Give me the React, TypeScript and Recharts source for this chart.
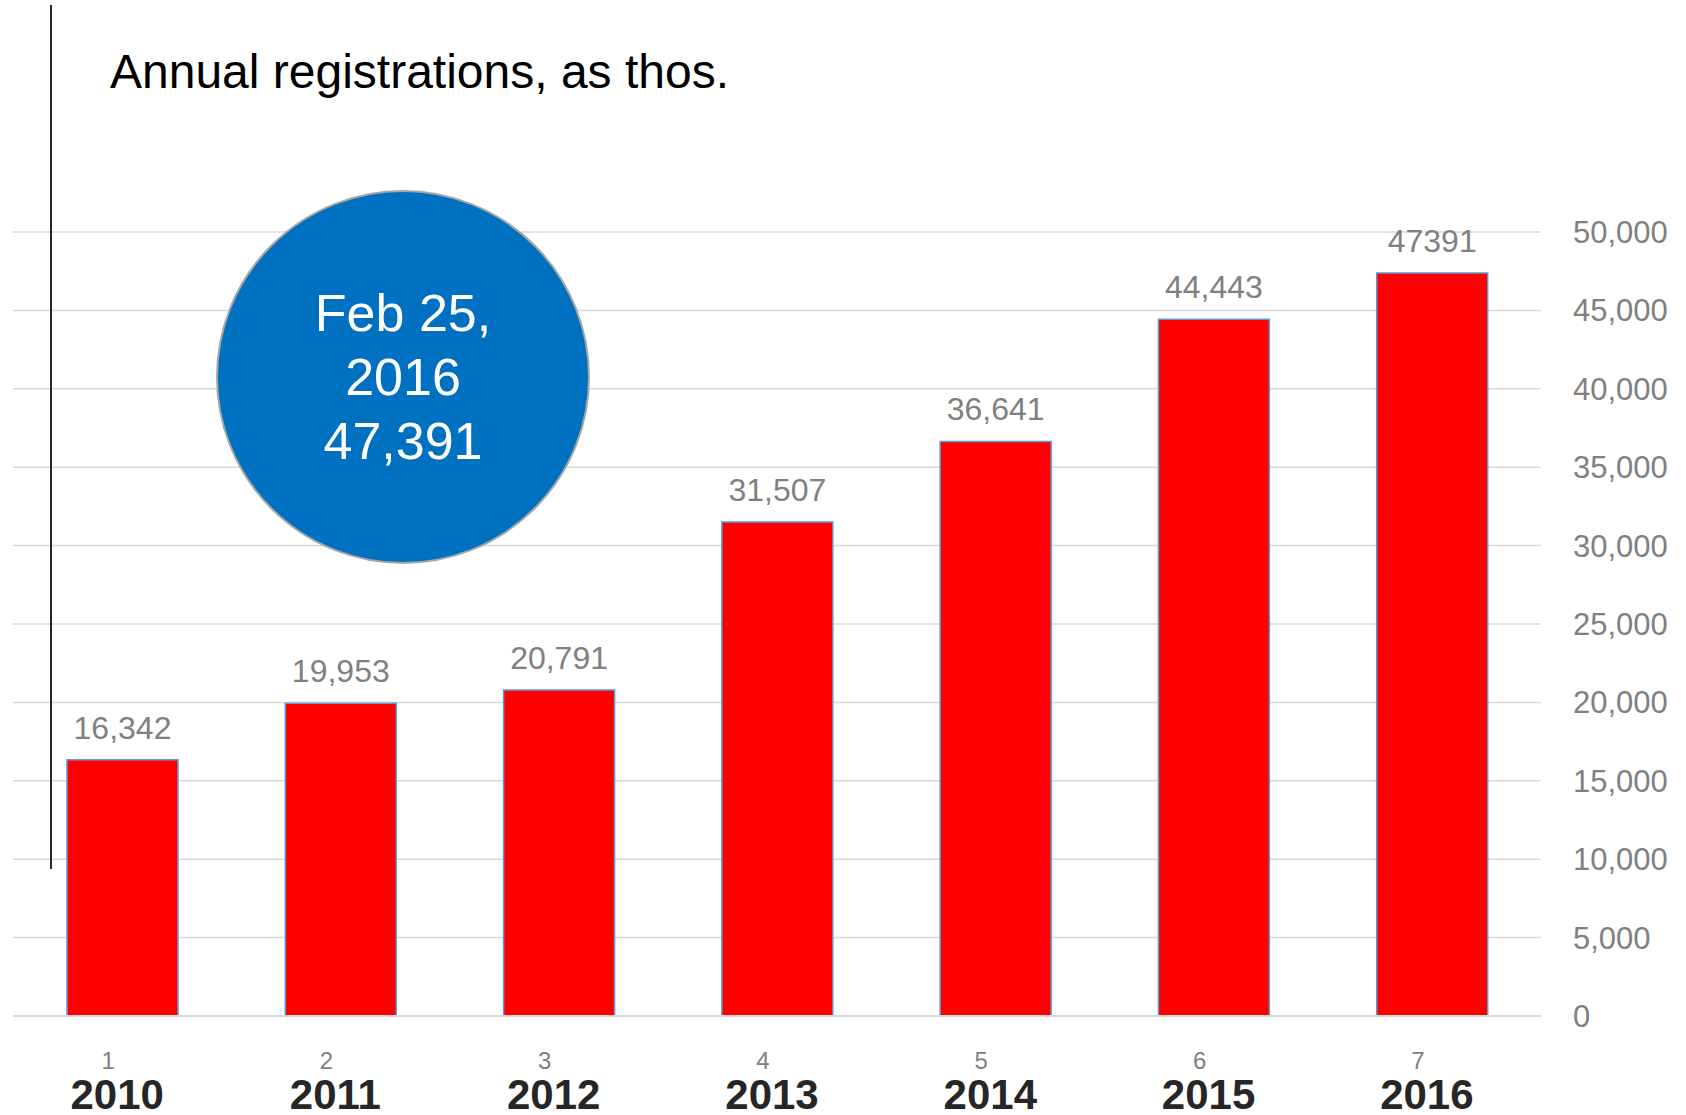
import { BarChart, Bar, XAxis, YAxis, CartesianGrid, LabelList } from "recharts";

const years = ["2010", "2011", "2012", "2013", "2014", "2015", "2016"];
const periodNumbers = ["1", "2", "3", "4", "5", "6", "7"];
const registrations = [16342, 19953, 20791, 31507, 36641, 44443, 47391];
const valueLabels = ["16,342", "19,953", "20,791", "31,507", "36,641", "44,443", "47391"];
const yTicks = [0, 5000, 10000, 15000, 20000, 25000, 30000, 35000, 40000, 45000, 50000];

const title = "Annual registrations, as thos.";
const calloutLines = ["Feb 25,", "2016", "47,391"];

const FONT = '"Liberation Sans", Arial, sans-serif';

const data = years.map((year, i) => ({
  year,
  num: periodNumbers[i],
  value: registrations[i],
  label: valueLabels[i],
}));

// two-row category tick: small period number + bold year
function YearTick(props: any) {
  const { x, y, payload, index } = props;
  return (
    <g>
      <text
        x={x - 14}
        y={y + 53}
        textAnchor="middle"
        fill="#7f7f7f"
        fontSize={24}
        fontFamily={FONT}
      >
        {periodNumbers[index]}
      </text>
      <text
        x={x - 5}
        y={y + 93}
        textAnchor="middle"
        fill="#262626"
        fontSize={42}
        fontWeight="bold"
        fontFamily={FONT}
      >
        {payload.value}
      </text>
    </g>
  );
}

export default function App() {
  return (
    <div
      style={{
        position: "fixed",
        left: 0,
        top: 0,
        width: 1686,
        height: 1115,
        background: "#fff",
        fontFamily: FONT,
      }}
    >
      <BarChart
        width={1686}
        height={1115}
        data={data}
        margin={{ top: 232, right: 0, bottom: 0, left: 13 }}
      >
        <CartesianGrid vertical={false} stroke="#d9d9d9" strokeWidth={1.5} />
        <XAxis
          dataKey="year"
          height={99}
          axisLine={{ stroke: "#d9d9d9", strokeWidth: 2 }}
          tickLine={false}
          tickSize={0}
          tickMargin={0}
          interval={0}
          tick={<YearTick />}
        />
        <YAxis
          orientation="right"
          width={145}
          domain={[0, 50000]}
          ticks={yTicks}
          interval={0}
          axisLine={false}
          tickLine={false}
          tickSize={0}
          tickMargin={32}
          tickFormatter={(v: number) => v.toLocaleString("en-US")}
          tick={{ fill: "#808080", fontSize: 31, fontFamily: FONT }}
        />
        <Bar
          dataKey="value"
          fill="#ff0000"
          stroke="#5b9bd5"
          strokeWidth={1.5}
          barSize={111}
          isAnimationActive={false}
        >
          <LabelList
            dataKey="label"
            position="top"
            offset={21}
            fill="#808080"
            fontSize={32}
            fontFamily={FONT}
          />
        </Bar>
      </BarChart>

      {/* left rule */}
      <div
        style={{
          position: "absolute",
          left: 50,
          top: 5,
          width: 2,
          height: 864,
          background: "#262626",
        }}
      />

      <div
        style={{
          position: "absolute",
          left: 110,
          top: 48,
          fontSize: 48,
          lineHeight: "48px",
          color: "#000",
          whiteSpace: "nowrap",
        }}
      >
        {title}
      </div>

      {/* callout bubble */}
      <div
        style={{
          position: "absolute",
          left: 403 - 187,
          top: 377 - 187,
          width: 374,
          height: 374,
          boxSizing: "border-box",
          borderRadius: "50%",
          background: "#0070c0",
          border: "2px solid #a6a6a6",
          display: "flex",
          flexDirection: "column",
          alignItems: "center",
          justifyContent: "center",
          color: "#fff",
          fontSize: 52,
          lineHeight: "64px",
        }}
      >
        {calloutLines.map((l) => (
          <div key={l}>{l}</div>
        ))}
      </div>
    </div>
  );
}
